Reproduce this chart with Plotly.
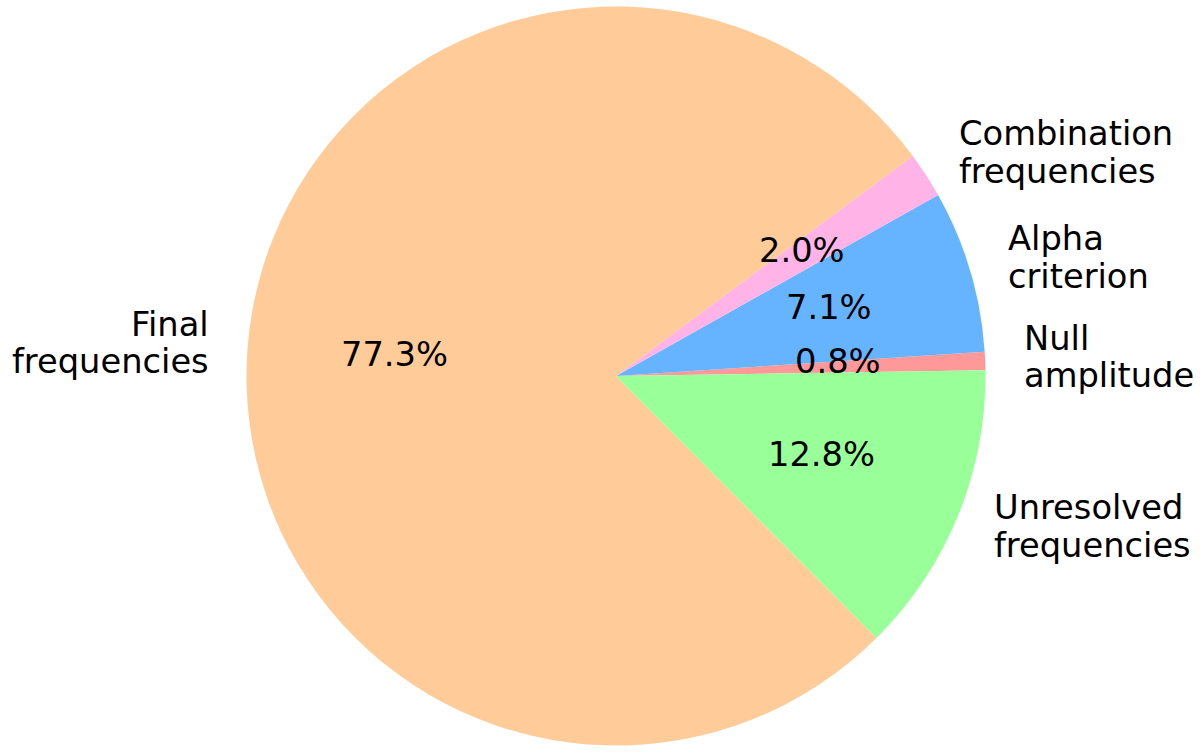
import math
import plotly.graph_objects as go

# Data (counterclockwise, starting just above 3 o'clock)
labels = ["Null amplitude", "Alpha criterion", "Combination frequencies",
          "Final frequencies", "Unresolved frequencies"]
label_lines = [["Null", "amplitude"], ["Alpha", "criterion"],
               ["Combination", "frequencies"], ["Final", "frequencies"],
               ["Unresolved", "frequencies"]]
values = [0.8, 7.1, 2.0, 77.3, 12.8]
colors = ["#ff9999", "#66b3ff", "#ffb3e6", "#ffcc99", "#99ff99"]
start_angle = 0.9  # degrees, counterclockwise from 3 o'clock

W, H = 1200, 756
cx, cy, R = 616, 376, 369.5
FS = 33.7
LINE = 37.5
FONT = dict(family="DejaVu Sans", size=FS, color="black")

total = sum(values)
# plotly (counterclockwise) places the first slice clockwise from `rotation`,
# so shift by the first slice's span to start it at start_angle
first_span = values[0] / total * 360

fig = go.Figure(go.Pie(
    labels=labels, values=values, sort=False,
    direction="counterclockwise", rotation=90 - start_angle - first_span,
    marker=dict(colors=colors, line=dict(width=0)),
    textinfo="none", hoverinfo="label+percent", showlegend=False,
    domain=dict(x=[(cx - R) / W, (cx + R) / W],
                y=[(H - cy - R) / H, (H - cy + R) / H]),
))

cum = 0.0
annotations = []
for lines, v in zip(label_lines, values):
    mid = math.radians(start_angle) + (cum + v / 2) / total * 2 * math.pi
    cum += v
    c, s = math.cos(mid), math.sin(mid)
    # outer label (two lines)
    lx, ly = cx + 1.1 * R * c, cy - 1.1 * R * s - 2.5
    n = len(lines)
    for i, t in enumerate(lines):
        yy = ly + (i - (n - 1) / 2) * LINE
        annotations.append(dict(
            x=lx / W, y=1 - yy / H, xref="paper", yref="paper",
            text=t, showarrow=False,
            xanchor="left" if c > 0 else "right", yanchor="middle",
            font=FONT,
        ))
    # percentage
    px, py = cx + 0.6 * R * c, cy - 0.6 * R * s - 5
    annotations.append(dict(
        x=px / W, y=1 - py / H, xref="paper", yref="paper",
        text=f"{v / total * 100:.1f}%", showarrow=False,
        xanchor="center", yanchor="middle", font=FONT,
    ))

fig.update_layout(
    width=W, height=H,
    margin=dict(l=0, r=0, t=0, b=0),
    paper_bgcolor="white", plot_bgcolor="white",
    annotations=annotations,
)

fig.write_html("out.html", config={"displayModeBar": False},
               post_script="document.body.style.margin='0';")
